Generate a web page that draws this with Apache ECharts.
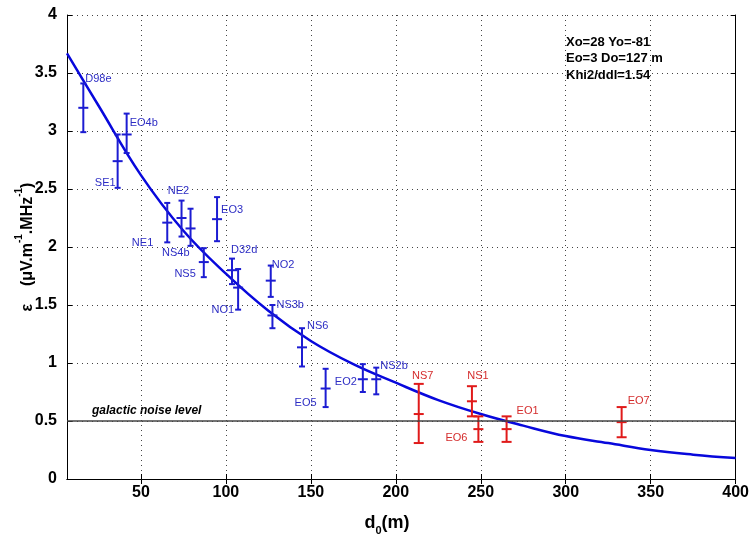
<!DOCTYPE html>
<html><head><meta charset="utf-8">
<script src="https://cdn.jsdelivr.net/npm/echarts@6/dist/echarts.min.js"></script>
<style>html,body{margin:0;padding:0;background:#fff}#c{width:752px;height:538px}</style>
</head><body><div id="c"></div>
<script>
// ---- data ----
const blueNames = ['D98e','EO4b','SE1','NE1','NE2','NS4b','EO3','NS5','D32d','NO1','NO2','NS3b','NS6','EO5','EO2','NS2b'];
const blueX    = [16.1, 41.6, 36.3, 65.5, 73.9, 79.2, 94.8, 87.0, 103.6, 107.2, 126.4, 127.4, 144.8, 158.7, 180.6, 188.5];
const blueY    = [3.20, 2.97, 2.74, 2.21, 2.25, 2.16, 2.24, 1.87, 1.80, 1.65, 1.71, 1.41, 1.135, 0.78, 0.86, 0.86];
const blueLow  = [2.99, 2.81, 2.51, 2.04, 2.09, 2.01, 2.05, 1.74, 1.68, 1.46, 1.57, 1.30, 0.97, 0.62, 0.75, 0.73];
const blueHigh = [3.41, 3.15, 2.97, 2.38, 2.40, 2.33, 2.43, 1.99, 1.90, 1.81, 1.84, 1.50, 1.30, 0.95, 0.99, 0.96];

const redNames = ['NS7','NS1','EO6','EO1','EO7'];
const redX     = [213.5, 244.8, 248.6, 265.2, 332.9];
const redY     = [0.56, 0.67, 0.43, 0.43, 0.49];
const redLow   = [0.31, 0.54, 0.32, 0.32, 0.36];
const redHigh  = [0.82, 0.80, 0.54, 0.54, 0.62];

const fitX = [6.5, 25, 50, 75, 100, 125, 150, 175, 200, 225, 250, 275, 300, 325, 350, 375, 400];
const fitY = [3.67, 3.22, 2.62, 2.14, 1.77, 1.45, 1.19, 0.99, 0.83, 0.68, 0.56, 0.46, 0.37, 0.31, 0.25, 0.21, 0.18];

const noiseLevel = 0.5;
const noiseText = 'galactic noise level';
const fitText = ['Xo=28 Yo=-81', 'Eo=3 Do=127 m', 'Khi2/ddl=1.54'];
const xTicks = [50, 100, 150, 200, 250, 300, 350, 400];
const yTicks = [0, 0.5, 1, 1.5, 2, 2.5, 3, 3.5, 4];
const xMin = 6.5, xMax = 400;

// ---- label placement (presentation only): [dx, dy, align] in px ----
const bluePlace = [[2,-29,'left'],[3,-12,'left'],[-2,22,'right'],[-14,20,'right'],[-3,-27,'center'],
  [-1,25,'right'],[4,-9,'left'],[-8,12,'right'],[-1,-20,'left'],[-4,22,'right'],[1,-16,'left'],
  [4,-10,'left'],[5,-21,'left'],[-9,14,'right'],[-6,3,'right'],[4,-13,'left']];
const redPlace = [[4,-38,'center'],[6,-25,'center'],[-11,9,'right'],[10,-18,'left'],[6,-21,'left']];

const BLUE = '#1c1cd2', BLUE_TXT = '#2d2dc4', RED = '#e01a1a', RED_TXT = '#d42c2c', FIT = '#0808dc';

function build(xs, ys, lo, hi) { return xs.map((x, i) => [x, ys[i], lo[i], hi[i]]); }

function errRender(color, txtColor, names, place, capHalf) {
  return function (params, api) {
    const x = api.value(0);
    const c = api.coord([x, api.value(1)]);
    const cl = api.coord([x, api.value(2)]);
    const ch = api.coord([x, api.value(3)]);
    const p = place[params.dataIndex];
    const st = { stroke: color, lineWidth: 2 };
    return { type: 'group', children: [
      { type: 'line', shape: { x1: c[0], y1: ch[1], x2: c[0], y2: cl[1] }, style: st },
      { type: 'line', shape: { x1: c[0] - capHalf, y1: ch[1], x2: c[0] + capHalf, y2: ch[1] }, style: st },
      { type: 'line', shape: { x1: c[0] - capHalf, y1: cl[1], x2: c[0] + capHalf, y2: cl[1] }, style: st },
      { type: 'line', shape: { x1: c[0] - 5, y1: c[1], x2: c[0] + 5, y2: c[1] }, style: st },
      { type: 'text', x: c[0] + p[0], y: c[1] + p[1], style: { text: names[params.dataIndex], fill: txtColor,
          fontSize: 11, fontFamily: 'Liberation Sans, Arial', align: p[2], verticalAlign: 'middle' } }
    ] };
  };
}

const FONT = 'Liberation Sans, Arial';
const GRID_LINE = { show: true, lineStyle: { color: '#444', width: 1, type: [1, 4] } };
const chart = echarts.init(document.getElementById('c'));
chart.setOption({
  animation: false,
  backgroundColor: '#fff',
  grid: { left: 67, right: 15, top: 15, bottom: 59 },
  xAxis: [
    { type: 'value', min: xMin, max: xMax, position: 'bottom',
      axisLine: { lineStyle: { color: '#000', width: 1 } },
      axisTick: { inside: true, length: 5, customValues: xTicks, lineStyle: { color: '#000' } },
      axisLabel: { customValues: xTicks, color: '#000', fontSize: 16, fontWeight: 'bold', fontFamily: FONT, margin: 6 },
      splitLine: GRID_LINE },
    { type: 'value', min: xMin, max: xMax, position: 'top',
      axisLine: { lineStyle: { color: '#000', width: 1 } },
      axisTick: { inside: true, length: 5, customValues: xTicks, lineStyle: { color: '#000' } },
      axisLabel: { show: false }, splitLine: { show: false } }
  ],
  yAxis: [
    { type: 'value', min: 0, max: 4, interval: 0.5, position: 'left',
      axisLine: { show: true, lineStyle: { color: '#000', width: 1 } },
      axisTick: { show: true, inside: true, length: 5, lineStyle: { color: '#000' } },
      axisLabel: { color: '#000', fontSize: 16, fontWeight: 'bold', fontFamily: FONT, margin: 10 },
      splitLine: GRID_LINE },
    { type: 'value', min: 0, max: 4, interval: 0.5, position: 'right',
      axisLine: { show: true, lineStyle: { color: '#000', width: 1 } },
      axisTick: { show: true, inside: true, length: 5, lineStyle: { color: '#000' } },
      axisLabel: { show: false }, splitLine: { show: false } }
  ],
  graphic: [
    { type: 'text', x: 25, y: 247, rotation: Math.PI / 2,
      style: { text: '{a|ε    (μV.m}{s|-1}{a|.MHz}{s|-1}{a|)}', align: 'center', verticalAlign: 'middle',
        rich: { a: { fontSize: 16, fontWeight: 'bold', fontFamily: FONT, fill: '#000', lineHeight: 22, verticalAlign: 'bottom' },
                s: { fontSize: 10, fontWeight: 'bold', fontFamily: FONT, fill: '#000', lineHeight: 10, verticalAlign: 'top' } } } },
    { type: 'text', x: 387, y: 525,
      style: { text: '{a|d}{s|0}{a|(m)}', align: 'center', verticalAlign: 'middle',
        rich: { a: { fontSize: 18, fontWeight: 'bold', fontFamily: FONT, fill: '#000', lineHeight: 22, verticalAlign: 'top' },
                s: { fontSize: 11, fontWeight: 'bold', fontFamily: FONT, fill: '#000', lineHeight: 11, verticalAlign: 'bottom' } } } },
    { type: 'text', x: 92, y: 411, style: { text: noiseText, fontSize: 12, fontWeight: 'bold', fontStyle: 'italic',
        fontFamily: FONT, fill: '#000', verticalAlign: 'middle' } },
    ...fitText.map((t, i) => ({ type: 'text', x: 566, y: 42 + i * 16.7,
        style: { text: t, fontSize: 13, fontWeight: 'bold', fontFamily: FONT, fill: '#000', verticalAlign: 'middle' } }))
  ],
  series: [
    { type: 'line', data: fitX.map((x, i) => [x, fitY[i]]), smooth: 0.4, showSymbol: false, z: 3,
      lineStyle: { color: FIT, width: 2.5 },
      markLine: { silent: true, symbol: 'none', label: { show: false },
        lineStyle: { color: '#444', width: 1.5, type: 'solid' }, data: [{ yAxis: noiseLevel }] } },
    { type: 'custom', data: build(blueX, blueY, blueLow, blueHigh), encode: { x: 0, y: [1, 2, 3] }, z: 4,
      renderItem: errRender(BLUE, BLUE_TXT, blueNames, bluePlace, 3) },
    { type: 'custom', data: build(redX, redY, redLow, redHigh), encode: { x: 0, y: [1, 2, 3] }, z: 4,
      renderItem: errRender(RED, RED_TXT, redNames, redPlace, 5) }
  ]
});
</script></body></html>
